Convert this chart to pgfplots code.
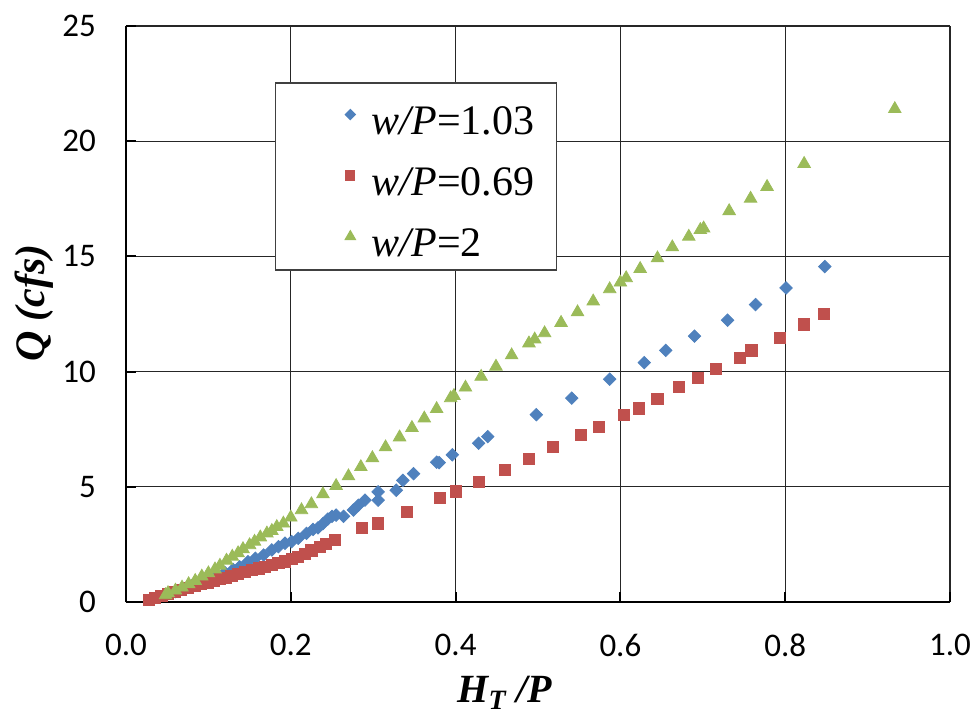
\documentclass[border=0pt]{standalone}
\usepackage{fontspec}
\setmainfont{Liberation Serif}
\newfontfamily\calibri{Carlito}
\usepackage{pgfplots}
\pgfplotsset{compat=1.18}

\definecolor{sblue}{HTML}{4F81BD}
\definecolor{sred}{HTML}{C0504D}
\definecolor{sgreen}{HTML}{9BBB59}

% Q (cfs) against H_T/P for three weir ratios w/P
\pgfplotstableread{
x y
0.030 0.12
0.040 0.22
0.050 0.33
0.060 0.45
0.070 0.58
0.080 0.72
0.090 0.86
0.100 1.00
0.110 1.14
0.120 1.28
0.130 1.41
0.138 1.53
0.148 1.75
0.157 1.90
0.167 2.04
0.177 2.26
0.185 2.40
0.193 2.55
0.201 2.62
0.209 2.76
0.219 2.98
0.227 3.15
0.233 3.22
0.239 3.40
0.245 3.60
0.250 3.72
0.255 3.77
0.264 3.72
0.276 3.99
0.282 4.20
0.290 4.42
0.306 4.42
0.306 4.78
0.328 4.85
0.336 5.28
0.349 5.57
0.377 6.07
0.380 6.05
0.396 6.39
0.428 6.89
0.439 7.18
0.498 8.13
0.541 8.85
0.587 9.67
0.629 10.39
0.655 10.92
0.690 11.54
0.730 12.23
0.764 12.91
0.801 13.63
0.848 14.56
}\wpA

\pgfplotstableread{
x y
0.028 0.10
0.035 0.18
0.043 0.27
0.051 0.36
0.059 0.45
0.067 0.54
0.075 0.62
0.083 0.70
0.091 0.77
0.099 0.84
0.107 0.92
0.114 0.99
0.121 1.06
0.128 1.14
0.136 1.23
0.144 1.30
0.153 1.38
0.161 1.46
0.169 1.53
0.177 1.61
0.185 1.68
0.193 1.76
0.201 1.86
0.209 1.97
0.217 2.10
0.225 2.24
0.235 2.38
0.243 2.53
0.254 2.68
0.286 3.20
0.306 3.41
0.341 3.91
0.381 4.52
0.400 4.80
0.428 5.21
0.460 5.74
0.489 6.20
0.518 6.72
0.552 7.27
0.574 7.61
0.604 8.13
0.622 8.40
0.645 8.81
0.671 9.34
0.694 9.71
0.716 10.10
0.745 10.60
0.759 10.92
0.794 11.47
0.823 12.05
0.847 12.52
}\wpB

\pgfplotstableread{
x y
0.048 0.30
0.051 0.39
0.060 0.50
0.068 0.63
0.076 0.78
0.084 0.92
0.092 1.11
0.100 1.25
0.108 1.42
0.114 1.58
0.122 1.80
0.129 1.97
0.136 2.12
0.142 2.30
0.150 2.47
0.156 2.62
0.163 2.81
0.171 2.98
0.177 3.09
0.183 3.26
0.191 3.41
0.200 3.67
0.213 3.99
0.225 4.25
0.239 4.68
0.255 5.04
0.270 5.46
0.285 5.86
0.299 6.25
0.315 6.72
0.332 7.15
0.347 7.56
0.362 7.97
0.377 8.38
0.394 8.85
0.398 8.95
0.412 9.31
0.431 9.78
0.449 10.22
0.468 10.71
0.489 11.23
0.496 11.40
0.508 11.67
0.528 12.12
0.548 12.58
0.567 13.05
0.587 13.58
0.600 13.87
0.607 14.06
0.624 14.46
0.645 14.92
0.663 15.40
0.683 15.86
0.697 16.15
0.701 16.22
0.732 16.97
0.758 17.51
0.778 18.02
0.823 19.02
0.933 21.40
}\wpC

\begin{document}
\begin{tikzpicture}
\useasboundingbox (-63pt,-55.5pt) rectangle (425pt,301pt);
\begin{axis}[
  scale only axis, width=412pt, height=288pt,
  xmin=0, xmax=1, ymin=0, ymax=25,
  clip=false,
  axis lines*=left,
  axis line style={-, line width=1pt, black},
  xtick={0,0.2,0.4,0.6,0.8,1}, ytick={0,5,10,15,20,25},
  tick align=inside, major tick length=5pt,
  tick style={black, line width=1pt},
  grid=major,
  major grid style={black!85, line width=0.6pt},
  /pgf/number format/assume math mode=true,
  tick label style={font=\calibri\fontsize{16.5}{18}\selectfont},
  xticklabel style={yshift=-12.4pt, /pgf/number format/.cd, fixed, fixed zerofill, precision=1},
  yticklabel style={xshift=-11.5pt},
  xlabel={\textbf{\textit{H\textsubscript{T} /P}}},
  ylabel={\textbf{\textit{Q (cfs)}}},
  every axis x label/.style={at={(axis description cs:0.46,-0.175)}, anchor=base,
    font=\fontsize{20}{24}\selectfont},
  every axis y label/.style={at={(axis description cs:-0.1117,0.519)}, anchor=center, rotate=90,
    font=\fontsize{21}{24}\selectfont},
  legend style={
    at={(axis description cs:0.181,0.902)}, anchor=north west,
    draw=black!75, line width=0.6pt, fill=white,
    inner xsep=11pt, inner ysep=4pt,
    font=\fontsize{21}{25}\selectfont,
    nodes={inner sep=0pt, text height=21.5pt, text depth=3pt},
    row sep=6pt,
  },
  legend cell align=left,
  legend image code/.code={\path (0pt,0pt) (36.5pt,0pt); \draw[#1, /tikz/every mark/.append style={scale=0.8}] plot coordinates {(26pt,0.5pt)};},
]
\addplot[only marks, color=sblue, mark=square*, mark size=2.2pt,
  mark options={rotate=45, fill=sblue, draw=sblue}] table {\wpA};
\addlegendentry{\textit{w/P}=1.03}
\addplot[only marks, color=sred, mark=square*, mark size=2.8pt,
  mark options={fill=sred, draw=sred}] table {\wpB};
\addlegendentry{\textit{w/P}=0.69}
\addplot[only marks, color=sgreen, mark=triangle*, mark size=3.6pt,
  mark options={fill=sgreen, draw=sgreen}] table {\wpC};
\addlegendentry{\textit{w/P}=2}
\end{axis}
\end{tikzpicture}
\end{document}
